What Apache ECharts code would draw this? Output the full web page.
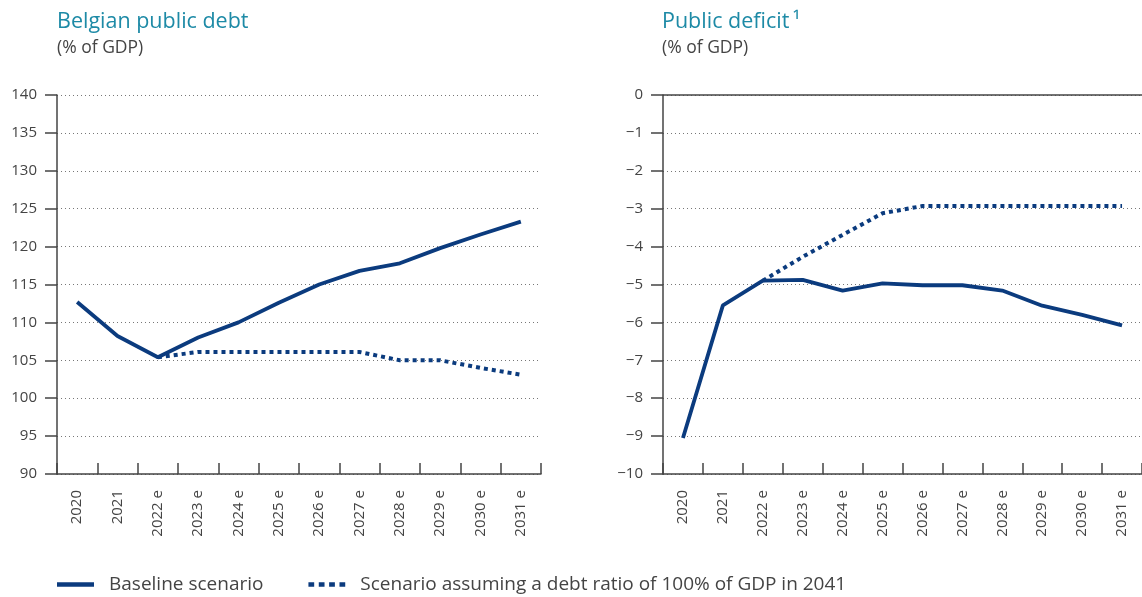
<!DOCTYPE html>
<html>
<head>
<meta charset="utf-8">
<script src="https://cdn.jsdelivr.net/npm/echarts@6/dist/echarts.min.js"></script>
<style>
html,body{margin:0;padding:0;background:#fff;}
#chart{width:1142px;height:597px;}
</style>
</head>
<body>
<div id="chart"></div>
<script>
const categories = ['2020','2021','2022 e','2023 e','2024 e','2025 e','2026 e','2027 e','2028 e','2029 e','2030 e','2031 e'];
const debtBaseline = [112.7,108.2,105.4,108.0,110.0,112.6,115.0,116.8,117.8,119.8,121.6,123.3];
const debtScenario = [null,null,105.4,106.1,106.1,106.1,106.1,106.1,105.0,105.0,104.0,103.1];
const deficitBaseline = [-9.05,-5.55,-4.9,-4.88,-5.16,-4.97,-5.02,-5.02,-5.16,-5.56,-5.8,-6.08];
const deficitScenario = [null,null,-4.9,-4.27,-3.69,-3.12,-2.93,-2.93,-2.93,-2.93,-2.93,-2.93];
const debtTicks = {min:90,max:140,interval:5};
const deficitTicks = {min:-10,max:0,interval:1};
const nameBase = 'Baseline scenario';
const nameScen = 'Scenario assuming a debt ratio of 100% of GDP in 2041';

const NAVY = '#0b3b7e';
const AXIS = '#444444';
const FONT = '"Open Sans", "Noto Sans", sans-serif';

function xAxisCfg(gridIndex){
  return {
    type:'category', gridIndex, data:categories, boundaryGap:true, position:'bottom',
    axisLine:{show:true,onZero:false,lineStyle:{color:AXIS,width:1.5}},
    axisTick:{show:true,inside:true,length:11,interval:0,lineStyle:{color:AXIS,width:1.5}},
    axisLabel:{rotate:90,interval:0,margin:16,color:AXIS,fontSize:15,fontFamily:FONT},
    splitLine:{show:false}
  };
}
function yAxisCfg(gridIndex, t, fmt){
  return {
    type:'value', gridIndex, min:t.min, max:t.max, interval:t.interval,
    axisLine:{show:true,onZero:false,lineStyle:{color:AXIS,width:1.5}},
    axisTick:{show:true,inside:false,length:12,lineStyle:{color:AXIS,width:1.5}},
    axisLabel:{margin:20,color:AXIS,fontSize:15,fontFamily:FONT,formatter:fmt},
    splitLine:{show:true,lineStyle:{color:'#777',width:1,type:[1,3]}}
  };
}
const minusFmt = v => v < 0 ? '\u2212' + Math.abs(v) : String(v);

const chart = echarts.init(document.getElementById('chart'));
chart.setOption({
  animation:false,
  backgroundColor:'#fff',
  textStyle:{fontFamily:FONT},
  title:[
    {text:'Belgian public debt', subtext:'(% of GDP)', left:52, top:6, itemGap:6,
     textStyle:{color:'#1d8aa6',fontSize:21.5,fontWeight:'normal',fontFamily:FONT},
     subtextStyle:{color:AXIS,fontSize:17.5,fontFamily:FONT}},
    {text:'Public deficit\u2009\u00b9', subtext:'(% of GDP)', left:657, top:6, itemGap:6,
     textStyle:{color:'#1d8aa6',fontSize:21.5,fontWeight:'normal',fontFamily:FONT},
     subtextStyle:{color:AXIS,fontSize:17.5,fontFamily:FONT}}
  ],
  legend:{
    orient:'horizontal', left:52, top:570, itemWidth:37, itemHeight:4.6, itemGap:45,
    textStyle:{color:AXIS,fontSize:19,fontFamily:FONT,padding:[0,0,0,10]},
    data:[
      {name:nameBase, icon:'rect', itemStyle:{color:NAVY}},
      {name:nameScen, icon:'path://M0,0h5v4h-5z M9,0h5v4h-5z M18,0h5v4h-5z M27,0h5v4h-5z', itemStyle:{color:NAVY}}
    ]
  },
  grid:[
    {left:57, right:1142-541, top:95, bottom:597-474, containLabel:false},
    {left:663, right:-5, top:95, bottom:597-474, containLabel:false}
  ],
  xAxis:[xAxisCfg(0), xAxisCfg(1)],
  yAxis:[yAxisCfg(0, debtTicks), yAxisCfg(1, deficitTicks, minusFmt)],
  series:[
    {name:nameBase, type:'line', xAxisIndex:0, yAxisIndex:0, data:debtBaseline,
     showSymbol:false, symbol:'none', z:3, lineStyle:{color:NAVY,width:3.8}, itemStyle:{color:NAVY}},
    {name:nameScen, type:'line', xAxisIndex:0, yAxisIndex:0, data:debtScenario,
     showSymbol:false, symbol:'none', z:2, lineStyle:{color:NAVY,width:4,type:[4,4]}, itemStyle:{color:NAVY}},
    {name:nameBase, type:'line', xAxisIndex:1, yAxisIndex:1, data:deficitBaseline,
     showSymbol:false, symbol:'none', z:3, lineStyle:{color:NAVY,width:3.8}, itemStyle:{color:NAVY},
     markLine:{silent:true, symbol:'none', label:{show:false}, animation:false,
       lineStyle:{color:AXIS,width:1.5,type:'solid'}, data:[{yAxis:0}]}},
    {name:nameScen, type:'line', xAxisIndex:1, yAxisIndex:1, data:deficitScenario,
     showSymbol:false, symbol:'none', z:2, lineStyle:{color:NAVY,width:4,type:[4,4]}, itemStyle:{color:NAVY}}
  ]
});
</script>
</body>
</html>
